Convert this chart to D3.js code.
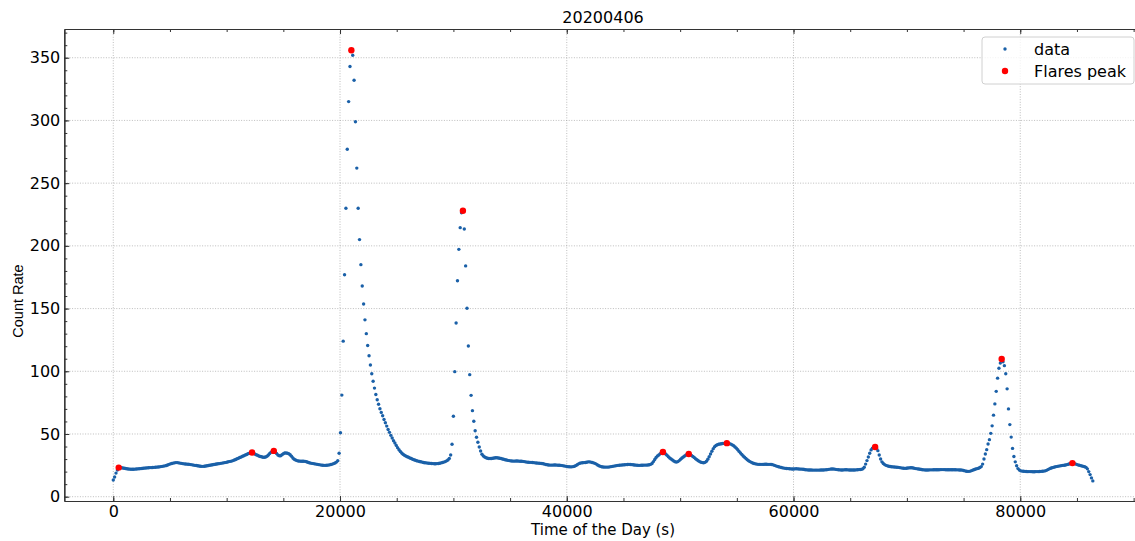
<!DOCTYPE html>
<html>
<head>
<meta charset="utf-8">
<script src="https://cdn.jsdelivr.net/npm/d3@7"></script>
<style>
  body { margin: 0; background: #fff; }
  text { font-family: "DejaVu Sans", sans-serif; fill: #000; }
</style>
</head>
<body>
<div id="chart"></div>
<script>
// sampling step of the light curve, seconds
var cadence = 120;

// count rate, in 4 hour blocks (00-04h, 04-08h, ...)
var rateH00 = [
  13.3, 15.7, 18.8, 21.2, 23.2, 23.2, 23.1, 22.9, 22.7, 22.5,
  22.3, 22.1, 22.0, 21.9, 21.9, 21.9, 22.0, 22.1, 22.2, 22.3,
  22.4, 22.5, 22.7, 22.8, 22.9, 23.0, 23.1, 23.2, 23.2, 23.3,
  23.4, 23.5, 23.6, 23.7, 23.8, 24.0, 24.2, 24.4, 24.6, 24.9,
  25.3, 25.8, 26.2, 26.5, 26.8, 27.0, 27.2, 27.2, 27.0, 26.8,
  26.6, 26.4, 26.2, 26.1, 26.0, 25.9, 25.8, 25.6, 25.4, 25.2,
  25.0, 24.9, 24.7, 24.5, 24.3, 24.2, 24.2, 24.3, 24.5, 24.7,
  24.9, 25.1, 25.3, 25.5, 25.7, 25.9, 26.1, 26.3, 26.4, 26.6,
  26.8, 27.0, 27.2, 27.4, 27.7, 28.0, 28.2, 28.4, 28.8, 29.2,
  29.7, 30.2, 30.7, 31.2, 31.7, 32.2, 32.7, 33.2, 33.7, 34.2,
  34.7, 35.0, 35.2, 34.8, 34.1, 33.5, 33.0, 32.5, 32.1, 31.8,
  31.5, 31.4, 31.6, 32.3, 33.3, 34.5, 35.5, 36.2, 36.5, 35.6
];
var rateH04 = [
  34.4, 33.3, 32.6, 32.6, 33.4, 34.3, 34.8, 34.9, 34.7, 34.2,
  33.5, 32.2, 30.8, 29.8, 29.2, 28.8, 28.5, 28.4, 28.3, 28.3,
  28.3, 28.2, 27.9, 27.5, 27.1, 26.8, 26.6, 26.4, 26.2, 26.0,
  25.8, 25.6, 25.4, 25.2, 25.1, 25.0, 25.0, 25.1, 25.2, 25.4,
  25.7, 26.0, 26.4, 26.9, 27.6, 28.7, 34.6, 51.0, 81.0, 124,
  177, 230, 277, 315, 343, 356, 352, 332, 299, 262,
  230, 205, 185, 168, 153.6, 141, 130, 120.6, 112.4, 105,
  98.0, 92.0, 86.6, 81.5, 77.3, 73.7, 70.1, 67.2, 64.6, 61.6,
  59.0, 56.3, 53.6, 51.3, 48.9, 46.8, 44.6, 42.8, 40.9, 39.1,
  37.4, 36.0, 34.8, 33.8, 33.1, 32.4, 31.9, 31.4, 30.9, 30.4,
  29.9, 29.5, 29.1, 28.7, 28.4, 28.1, 27.9, 27.6, 27.3, 27.1,
  27.0, 26.8, 26.7, 26.6, 26.5, 26.4, 26.3, 26.3, 26.4, 26.5
];
var rateH08 = [
  26.7, 27.0, 27.3, 27.6, 28.0, 28.6, 29.3, 30.4, 33.3, 41.8,
  64.1, 99.7, 138.5, 172.2, 197.2, 214.5, 226.4, 228, 213.4, 184,
  150.2, 120.1, 97.3, 80.8, 68.6, 60.1, 52.6, 47.4, 43.4, 39.6,
  36.4, 33.8, 32.5, 31.6, 31.0, 30.6, 30.5, 30.4, 30.5, 30.7,
  30.9, 31.0, 31.0, 30.9, 30.7, 30.4, 30.1, 29.8, 29.5, 29.2,
  29.0, 28.8, 28.6, 28.5, 28.4, 28.4, 28.5, 28.5, 28.4, 28.3,
  28.3, 28.2, 28.0, 27.8, 27.6, 27.5, 27.4, 27.4, 27.3, 27.2,
  27.0, 26.9, 26.8, 26.7, 26.6, 26.5, 26.3, 26.0, 25.7, 25.5,
  25.3, 25.2, 25.2, 25.2, 25.3, 25.3, 25.2, 25.1, 25.1, 25.0,
  24.8, 24.6, 24.4, 24.2, 24.0, 23.9, 23.8, 23.8, 24.0, 24.3,
  24.8, 25.5, 26.2, 26.7, 27.0, 27.1, 27.2, 27.3, 27.5, 27.8,
  27.8, 27.6, 27.3, 27.0, 26.6, 26.0, 25.3, 24.7, 24.2, 23.9
];
var rateH12 = [
  23.7, 23.6, 23.6, 23.6, 23.6, 23.8, 24.0, 24.2, 24.4, 24.6,
  24.8, 25.0, 25.1, 25.2, 25.3, 25.4, 25.5, 25.6, 25.7, 25.8,
  25.7, 25.6, 25.5, 25.3, 25.2, 25.1, 25.0, 25.0, 25.1, 25.1,
  25.2, 25.2, 25.2, 25.3, 25.5, 25.8, 26.5, 28.0, 29.7, 31.2,
  32.4, 33.3, 34.2, 35.0, 35.6, 35.0, 34.0, 33.0, 31.9, 30.9,
  30.0, 29.2, 28.5, 27.9, 27.6, 28.0, 28.8, 29.8, 30.8, 31.7,
  32.5, 33.2, 33.8, 34.0, 33.6, 32.8, 32.0, 31.2, 30.3, 29.5,
  28.7, 28.0, 27.5, 27.2, 27.1, 27.4, 28.3, 29.8, 31.8, 34.0,
  36.2, 38.3, 39.8, 40.8, 41.4, 41.8, 42.0, 42.2, 42.4, 42.5,
  42.6, 42.7, 42.5, 42.3, 41.9, 41.3, 40.6, 39.7, 38.6, 37.4,
  36.1, 34.8, 33.6, 32.5, 31.4, 30.4, 29.5, 28.7, 28.0, 27.4,
  26.9, 26.5, 26.2, 26.0, 25.8, 25.8, 25.8, 25.8, 25.8, 25.9
];
var rateH16 = [
  25.9, 25.8, 25.8, 25.8, 25.7, 25.4, 25.0, 24.6, 24.2, 23.9,
  23.6, 23.3, 23.0, 22.8, 22.6, 22.5, 22.4, 22.3, 22.2, 22.1,
  22.1, 22.2, 22.3, 22.2, 22.1, 22.0, 22.0, 21.9, 21.7, 21.5,
  21.4, 21.3, 21.3, 21.3, 21.2, 21.2, 21.2, 21.2, 21.2, 21.2,
  21.3, 21.3, 21.3, 21.4, 21.5, 21.6, 21.8, 22.0, 22.1, 22.1,
  22.0, 21.8, 21.6, 21.5, 21.4, 21.3, 21.3, 21.4, 21.5, 21.5,
  21.4, 21.3, 21.3, 21.3, 21.3, 21.3, 21.4, 21.5, 21.6, 21.7,
  21.8, 22.3, 23.5, 26.0, 28.8, 31.6, 34.6, 37.3, 38.7, 39.3,
  39.6, 38.6, 36.7, 33.3, 30.0, 27.8, 26.5, 25.6, 25.0, 24.6,
  24.3, 24.1, 23.9, 23.8, 23.7, 23.6, 23.5, 23.4, 23.2, 23.0,
  22.8, 22.7, 22.6, 22.7, 22.9, 23.0, 23.1, 23.1, 22.9, 22.6,
  22.4, 22.2, 22.1, 21.9, 21.7, 21.5, 21.4, 21.3, 21.3, 21.3
];
var rateH20 = [
  21.4, 21.4, 21.4, 21.5, 21.5, 21.5, 21.5, 21.5, 21.6, 21.6,
  21.6, 21.6, 21.5, 21.5, 21.5, 21.5, 21.5, 21.5, 21.5, 21.5,
  21.4, 21.4, 21.3, 21.3, 21.2, 20.9, 20.6, 20.3, 20.2, 20.2,
  20.4, 20.8, 21.3, 21.7, 22.1, 22.4, 22.7, 23.3, 24.0, 26.0,
  30.0, 34.0, 37.5, 42.0, 45.5, 50.5, 56.5, 65.0, 74.0, 84.0,
  94.5, 102.4, 106.5, 109.8, 107.5, 104.5, 98.0, 86.0, 70.0, 57.5,
  47.5, 38.5, 32.0, 27.8, 24.7, 22.4, 21.2, 20.6, 20.4, 20.3,
  20.2, 20.1, 20.0, 20.0, 20.0, 20.0, 19.9, 19.9, 20.0, 20.0,
  20.0, 20.1, 20.2, 20.3, 20.4, 20.6, 21.0, 21.6, 22.2, 22.7,
  23.1, 23.4, 23.7, 24.0, 24.2, 24.4, 24.6, 24.8, 25.0, 25.1,
  25.3, 25.6, 25.9, 26.3, 26.6, 26.8, 26.6, 26.2, 25.8, 25.4,
  25.1, 24.8, 24.5, 24.2, 23.9, 23.4, 22.2, 20.0, 17.6, 15.0,
  12.6
];

// flare peaks (red markers)
var peakTime = [480, 12240, 14160, 21000, 30840, 48480, 50760, 54120, 67200, 78360, 84600];
var peakRate = [23.2, 35.2, 36.5, 356, 228, 35.6, 34.0, 42.7, 39.6, 109.8, 26.8];

var xTicks = [0, 20000, 40000, 60000, 80000];
var yTicks = [0, 50, 100, 150, 200, 250, 300, 350];
var title = "20200406";

var rate = [].concat(rateH00, rateH04, rateH08, rateH12, rateH16, rateH20);
var data = rate.map(function(v, i) { return {t: i * cadence, v: v}; });
var peaks = peakTime.map(function(t, i) { return {t: t, v: peakRate[i]}; });

var width = 1135, height = 541;
var plotL = 64.3, plotT = 29, plotR = 1141.8, plotB = 501;
var blue = "#1a60a8";

var x = d3.scaleLinear().domain([-4320, 90720]).range([plotL, plotR]);
var y = d3.scaleLinear().domain([-3.43, 372.9]).range([plotB, plotT]);

var svg = d3.select("#chart")
    .append("svg")
    .attr("width", width)
    .attr("height", height);

// grid
var grid = svg.append("g")
    .attr("stroke", "#a0a0a0")
    .attr("stroke-width", 0.7)
    .attr("stroke-dasharray", "1,1.6");

grid.selectAll(".gx")
    .data(xTicks)
    .enter()
    .append("line")
    .attr("x1", function(d) { return x(d); })
    .attr("x2", function(d) { return x(d); })
    .attr("y1", plotT)
    .attr("y2", plotB);

grid.selectAll(".gy")
    .data(yTicks)
    .enter()
    .append("line")
    .attr("x1", plotL)
    .attr("x2", plotR)
    .attr("y1", function(d) { return y(d); })
    .attr("y2", function(d) { return y(d); });

// data points
svg.append("g")
    .selectAll("circle")
    .data(data)
    .enter()
    .append("circle")
    .attr("cx", function(d) { return x(d.t); })
    .attr("cy", function(d) { return y(d.v); })
    .attr("r", 1.7)
    .attr("fill", blue);

// flare peaks
svg.append("g")
    .selectAll("circle")
    .data(peaks)
    .enter()
    .append("circle")
    .attr("cx", function(d) { return x(d.t); })
    .attr("cy", function(d) { return y(d.v); })
    .attr("r", 3.2)
    .attr("fill", "#ff0000");

// axes, ticks point inward
var xMinor = d3.range(0, 90001, 5000);
var yMinor = d3.range(0, 371, 10);

function styleAxis(g) {
    g.select(".domain").attr("stroke", "#333").attr("stroke-width", 1.2);
    g.selectAll(".tick line").attr("stroke", "#333").attr("stroke-width", 1);
    g.selectAll(".tick text")
        .attr("font-family", "DejaVu Sans")
        .attr("font-size", 16)
        .attr("fill", "#000");
}

svg.append("g")
    .attr("transform", "translate(0," + plotB + ")")
    .call(d3.axisBottom(x).tickValues(xMinor).tickSizeInner(-3).tickSizeOuter(0).tickFormat(""))
    .call(styleAxis);
svg.append("g")
    .attr("transform", "translate(0," + plotB + ")")
    .call(d3.axisBottom(x).tickValues(xTicks).tickSizeInner(-5).tickSizeOuter(0).tickPadding(5).tickFormat(d3.format("d")))
    .call(styleAxis);

svg.append("g")
    .attr("transform", "translate(0," + plotT + ")")
    .call(d3.axisTop(x).tickValues(xMinor).tickSizeInner(-3).tickSizeOuter(0).tickFormat(""))
    .call(styleAxis);
svg.append("g")
    .attr("transform", "translate(0," + plotT + ")")
    .call(d3.axisTop(x).tickValues(xTicks).tickSizeInner(-5).tickSizeOuter(0).tickFormat(""))
    .call(styleAxis);

svg.append("g")
    .attr("transform", "translate(" + plotL + ",0)")
    .call(d3.axisLeft(y).tickValues(yMinor).tickSizeInner(-3).tickSizeOuter(0).tickFormat(""))
    .call(styleAxis);
svg.append("g")
    .attr("transform", "translate(" + plotL + ",0)")
    .call(d3.axisLeft(y).tickValues(yTicks).tickSizeInner(-5).tickSizeOuter(0).tickPadding(4))
    .call(styleAxis);

svg.append("g")
    .attr("transform", "translate(" + plotR + ",0)")
    .call(d3.axisRight(y).tickValues(yTicks).tickSizeInner(-5).tickSizeOuter(0).tickFormat(""))
    .call(styleAxis);

// labels
svg.append("text")
    .attr("x", (plotL + plotR) / 2)
    .attr("y", 23)
    .attr("text-anchor", "middle")
    .attr("font-size", 16)
    .text(title);

svg.append("text")
    .attr("x", (plotL + plotR) / 2)
    .attr("y", 535)
    .attr("text-anchor", "middle")
    .attr("font-size", 15)
    .text("Time of the Day (s)");

svg.append("text")
    .attr("transform", "translate(23,301) rotate(-90)")
    .attr("text-anchor", "middle")
    .attr("font-size", 14.5)
    .style("font-family", "Liberation Sans")
    .text("Count Rate");

// legend
var legend = svg.append("g").attr("transform", "translate(982,37)");
legend.append("rect")
    .attr("width", 152)
    .attr("height", 47)
    .attr("rx", 3)
    .attr("fill", "#fff")
    .attr("fill-opacity", 0.8)
    .attr("stroke", "#d0d0d0");
legend.append("circle").attr("cx", 23).attr("cy", 12).attr("r", 1.7).attr("fill", blue);
legend.append("circle").attr("cx", 23).attr("cy", 34).attr("r", 3.2).attr("fill", "#ff0000");
legend.append("text").attr("x", 52).attr("y", 17.5).attr("font-size", 16).text("data");
legend.append("text").attr("x", 52).attr("y", 39.5).attr("font-size", 16).text("Flares peak");
</script>
</body>
</html>
